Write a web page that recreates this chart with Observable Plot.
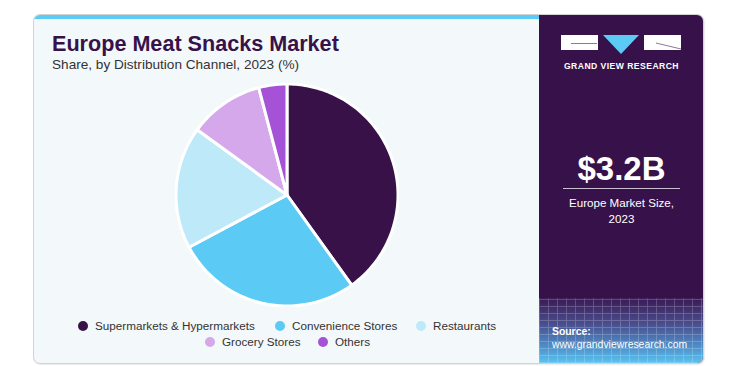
<!DOCTYPE html>
<html>
<head>
<meta charset="utf-8">
<script src="https://cdn.jsdelivr.net/npm/d3@7"></script>
<script src="https://cdn.jsdelivr.net/npm/@observablehq/plot@0.6"></script>
<style>
  html, body { margin: 0; padding: 0; background: #fff; width: 748px; height: 366px; overflow: hidden; }
  body { font-family: "Liberation Sans", Arial, sans-serif; position: relative; }
  #card { position: absolute; left: 34px; top: 15px; width: 669px; height: 348px; border-radius: 6px;
    background: #f3f8fb; box-shadow: 0 0 0 1px #d3d3d3, 1px 1px 2px rgba(0,0,0,0.25); overflow: hidden; }
  #topbar { position: absolute; left: 0; top: 0; width: 506px; height: 4px; background: #5bcbf5; }
  #side { position: absolute; left: 505px; top: 0; width: 164px; height: 348px; background: #37124a; overflow: hidden; }
  #sidegrad { position: absolute; left: 0; top: 283px; width: 164px; height: 65px;
    background: linear-gradient(to bottom, #3a1a55 0%, #4a4f8e 40%, #4f8fc8 75%, #5bc3ef 100%); }
  #sidegrid { position: absolute; left: 0; top: 283px; width: 164px; height: 65px; opacity: 0.22;
    background-image: repeating-linear-gradient(90deg, rgba(255,255,255,0.9) 0 1px, transparent 1px 9px),
                      repeating-linear-gradient(0deg, rgba(255,255,255,0.9) 0 1px, transparent 1px 7px); }
  .title { position: absolute; left: 52px; top: 31px; font-size: 21.6px; font-weight: bold; color: #37124a; white-space: nowrap; }
  .subtitle { position: absolute; left: 52px; top: 57px; font-size: 13.6px; color: #333; white-space: nowrap; }
  #pie { position: absolute; left: 175px; top: 83px; }
  .leg { position: absolute; font-size: 11.7px; color: #333; white-space: nowrap; line-height: 14px; }
  .dot { display: inline-block; width: 10px; height: 10px; border-radius: 50%; vertical-align: -1px; margin-right: 7px; }
  .logo { position: absolute; }
  .w { position: absolute; background: #fff; }
  .gvr { position: absolute; left: 561px; top: 61px; width: 121px; text-align: center; color: #fff; font-size: 8.6px; font-weight: bold; letter-spacing: 0.45px; white-space: nowrap; }
  .big { position: absolute; left: 540px; top: 150px; width: 163px; text-align: center; color: #fff; font-size: 33px; font-weight: bold; }
  .rule { position: absolute; left: 563px; top: 188px; width: 117px; height: 1px; background: #c9bfd0; }
  .sz { position: absolute; left: 540px; top: 195px; width: 163px; text-align: center; color: #fff; font-size: 11.6px; line-height: 16px; }
  .src { position: absolute; left: 552px; top: 325px; color: #fff; font-size: 10.4px; line-height: 13px; }
</style>
</head>
<body>
<div id="card">
  <div id="topbar"></div>
  <div id="side"><div id="sidegrad"></div><div id="sidegrid"></div></div>
</div>
<div class="title">Europe Meat Snacks Market</div>
<div class="subtitle">Share, by Distribution Channel, 2023 (%)</div>
<div id="pie"></div>

<div class="w" style="left:561px;top:35px;width:37px;height:15px;"></div>
<div style="position:absolute;left:571px;top:43px;width:26px;height:1px;background:#8a7a95;"></div>
<svg class="logo" style="left:603px;top:35px" width="36" height="20"><polygon points="0,0 36,0 18,19" fill="#5bcbf5"/></svg>
<div class="w" style="left:644px;top:35px;width:37px;height:15px;"></div>
<svg class="logo" style="left:644px;top:35px" width="37" height="15"><line x1="12" y1="8" x2="37" y2="14" stroke="#8a7a95" stroke-width="1"/></svg>
<div class="gvr">GRAND VIEW RESEARCH</div>

<div class="big">$3.2B</div>
<div class="rule"></div>
<div class="sz">Europe Market Size,<br>2023</div>
<div class="src"><b>Source:</b><br>www.grandviewresearch.com</div>

<div id="legend"></div>

<script>
const categories = ["Supermarkets & Hypermarkets", "Convenience Stores", "Restaurants", "Grocery Stores", "Others"];
const shares = [40.1, 27.1, 17.8, 10.9, 4.1];
const colors = ["#371148", "#5bcbf5", "#bde9f9", "#d5a8ec", "#a552d6"];

const table = categories.map((c, i) => ({category: c, value: shares[i]}));
const arcs = d3.pie().value(d => d.value).sort(null)(table);
const pts = [];
for (const a of arcs) {
  const n = Math.max(2, Math.ceil((a.endAngle - a.startAngle) / 0.02));
  for (let k = 0; k <= n; k++) {
    const t = a.startAngle + (a.endAngle - a.startAngle) * k / n;
    pts.push({category: a.data.category, cx: 0, cy: 0, ax: Math.sin(t), ay: Math.cos(t)});
  }
}

const chart = Plot.plot({
  width: 224, height: 224, margin: 1,
  x: {domain: [-1, 1], axis: null},
  y: {domain: [-1, 1], axis: null},
  color: {domain: categories, range: colors},
  style: {background: "transparent"},
  marks: [
    Plot.area(pts, {x1: "cx", y1: "cy", x2: "ax", y2: "ay", z: "category", fill: "category",
      stroke: "white", strokeWidth: 3, strokeLinejoin: "round"})
  ]
});
document.getElementById("pie").appendChild(chart);

const legendPos = [[78, 319], [275, 319], [416, 319], [205, 335], [318, 335]];
const leg = document.getElementById("legend");
categories.forEach((c, i) => {
  const d = document.createElement("div");
  d.className = "leg";
  d.style.left = legendPos[i][0] + "px";
  d.style.top = legendPos[i][1] + "px";
  d.innerHTML = `<span class="dot" style="background:${colors[i]}"></span>${c.replace("&", "&amp;")}`;
  leg.appendChild(d);
});
</script>
</body>
</html>
